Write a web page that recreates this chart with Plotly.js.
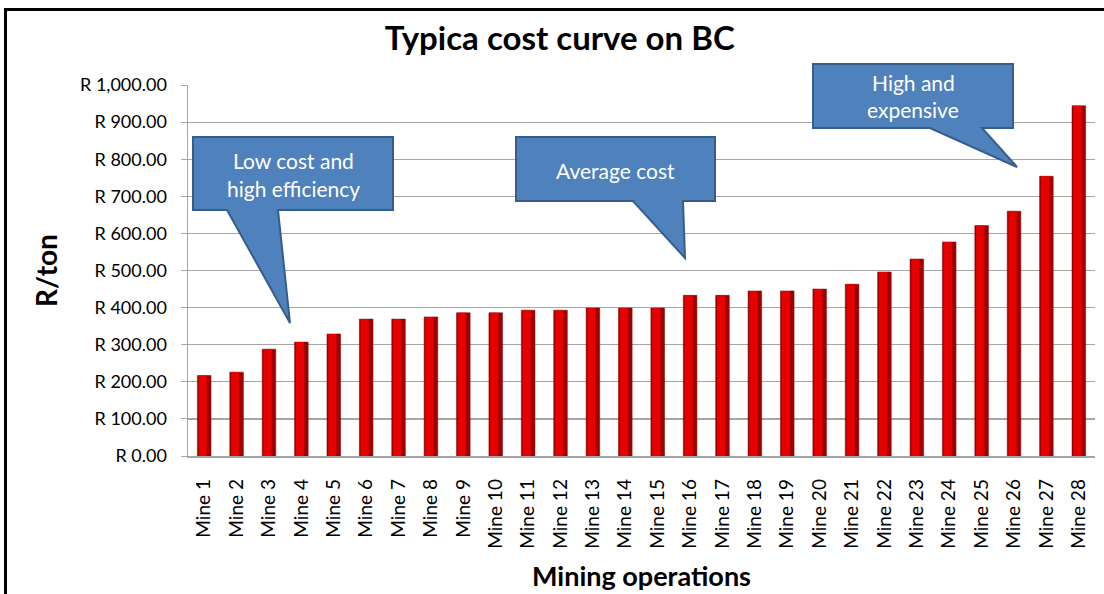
<!DOCTYPE html>
<html>
<head>
<meta charset="utf-8">
<script src="https://cdn.plot.ly/plotly-3.0.1.min.js"></script>
<style>
  html, body { margin: 0; padding: 0; background: #fff; }
  #chart { width: 1104px; height: 594px; position: relative; }
  #frame { position: absolute; left: 4px; top: 8px; width: 1104px; height: 600px;
           border-top: 3px solid #000; border-left: 3px solid #000; pointer-events: none; }
</style>
</head>
<body>
<div id="chart"></div>
<div id="frame"></div>
<script>
const mines = ["Mine 1","Mine 2","Mine 3","Mine 4","Mine 5","Mine 6","Mine 7","Mine 8","Mine 9","Mine 10",
  "Mine 11","Mine 12","Mine 13","Mine 14","Mine 15","Mine 16","Mine 17","Mine 18","Mine 19","Mine 20",
  "Mine 21","Mine 22","Mine 23","Mine 24","Mine 25","Mine 26","Mine 27","Mine 28"];
const costPerTon = [217, 226, 288, 307, 329, 369, 369, 375, 386, 386,
  393, 393, 399, 399, 399, 433, 433, 445, 445, 450,
  463, 496, 531, 577, 621, 660, 754, 944];
const yTickVals = [0, 100, 200, 300, 400, 500, 600, 700, 800, 900, 1000];
const yTickText = ["R 0.00","R 100.00","R 200.00","R 300.00","R 400.00","R 500.00",
  "R 600.00","R 700.00","R 800.00","R 900.00","R 1,000.00"];
const titleText = "Typica cost curve on BC";
const xTitle = "Mining operations";
const yTitle = "R/ton";
const callouts = [
  {text: "Low cost and<br>high efficiency"},
  {text: "Average cost"},
  {text: "High and<br>expensive"}
];

const FONT = 'Lato, "Open Sans", sans-serif';
// pixel helpers for callout geometry (plot area: x 188..1095, y 85..456)
const W = 1104, H = 594, L = 188, R = 9, T = 85, B = 138;
const pw = W - L - R, ph = H - T - B;
const px = x => (x - L) / pw;
const py = y => (H - B - y) / ph;
function calloutPath(l, t, r, b, bl, br, tx, ty) {
  const p = [[l,t],[r,t],[r,b],[br,b],[tx,ty],[bl,b],[l,b]];
  return 'M' + p.map(q => px(q[0]).toFixed(5) + ',' + py(q[1]).toFixed(5)).join(' L') + ' Z';
}
const geo = [
  {box: [193,137,393,210,227,278,290,323], tx: 293, ty: [160, 188]},
  {box: [516,137,715,201,633,683,685,258], tx: 615, ty: [170]},
  {box: [813,64,1013,128,930,982,1017,167], tx: 913, ty: [83, 110]}
];

const traces = [
  {type: 'bar', x: mines, y: costPerTon, width: 0.42, offset: -0.21,
   marker: {color: '#A00000', line: {color: '#7A0000', width: 0.5}}, hoverinfo: 'x+y', showlegend: false},
  {type: 'bar', x: mines, y: costPerTon, width: 0.25, offset: -0.17,
   marker: {color: '#E60000'}, hoverinfo: 'skip', showlegend: false}
];

const shapes = geo.map(g => ({
  type: 'path', xref: 'paper', yref: 'paper', layer: 'above',
  path: calloutPath(...g.box),
  fillcolor: '#4F81BD', line: {color: '#385D8A', width: 2}
}));

const annotations = [];
geo.forEach((g, i) => {
  const lines = callouts[i].text.split('<br>');
  lines.forEach((ln, j) => {
    annotations.push({xref: 'paper', yref: 'paper', x: px(g.tx), y: py(g.ty[j]),
      text: ln, showarrow: false, xanchor: 'center', yanchor: 'middle',
      font: {family: FONT, size: 21, color: '#FFFFFF'}});
  });
});

const layout = {
  width: W, height: H,
  margin: {l: L, r: R, t: T, b: B},
  paper_bgcolor: '#FFFFFF', plot_bgcolor: '#FFFFFF',
  barmode: 'overlay',
  title: {text: '<b>' + titleText + '</b>', x: 0.507, xanchor: 'center', y: 0.935, yanchor: 'middle',
          font: {family: FONT, size: 33, color: '#000000'}},
  xaxis: {type: 'category', tickangle: -90, showgrid: false, showline: true, linecolor: '#A6A6A6', linewidth: 1.5,
          ticks: '', ticklabelstandoff: 14, tickfont: {family: FONT, size: 19, color: '#000'},
          title: {text: '<b>' + xTitle + '</b>', standoff: 19,
                  font: {family: FONT, size: 27, color: '#000'}},
          range: [-0.5, 27.5], fixedrange: true},
  yaxis: {range: [0, 1000], tickvals: yTickVals, ticktext: yTickText, showgrid: true, gridcolor: '#A6A6A6',
          gridwidth: 1.2, showline: true, linecolor: '#A6A6A6', linewidth: 1.5, ticks: 'outside', ticklen: 6,
          tickcolor: '#A6A6A6', zeroline: false, ticklabelstandoff: 10,
          tickfont: {family: FONT, size: 18, color: '#000'},
          title: {text: '<b>' + yTitle + '</b>', standoff: 14,
                  font: {family: FONT, size: 28, color: '#000'}},
          fixedrange: true},
  shapes: shapes,
  annotations: annotations
};

Plotly.newPlot('chart', traces, layout, {displayModeBar: false, staticPlot: true});
</script>
</body>
</html>
